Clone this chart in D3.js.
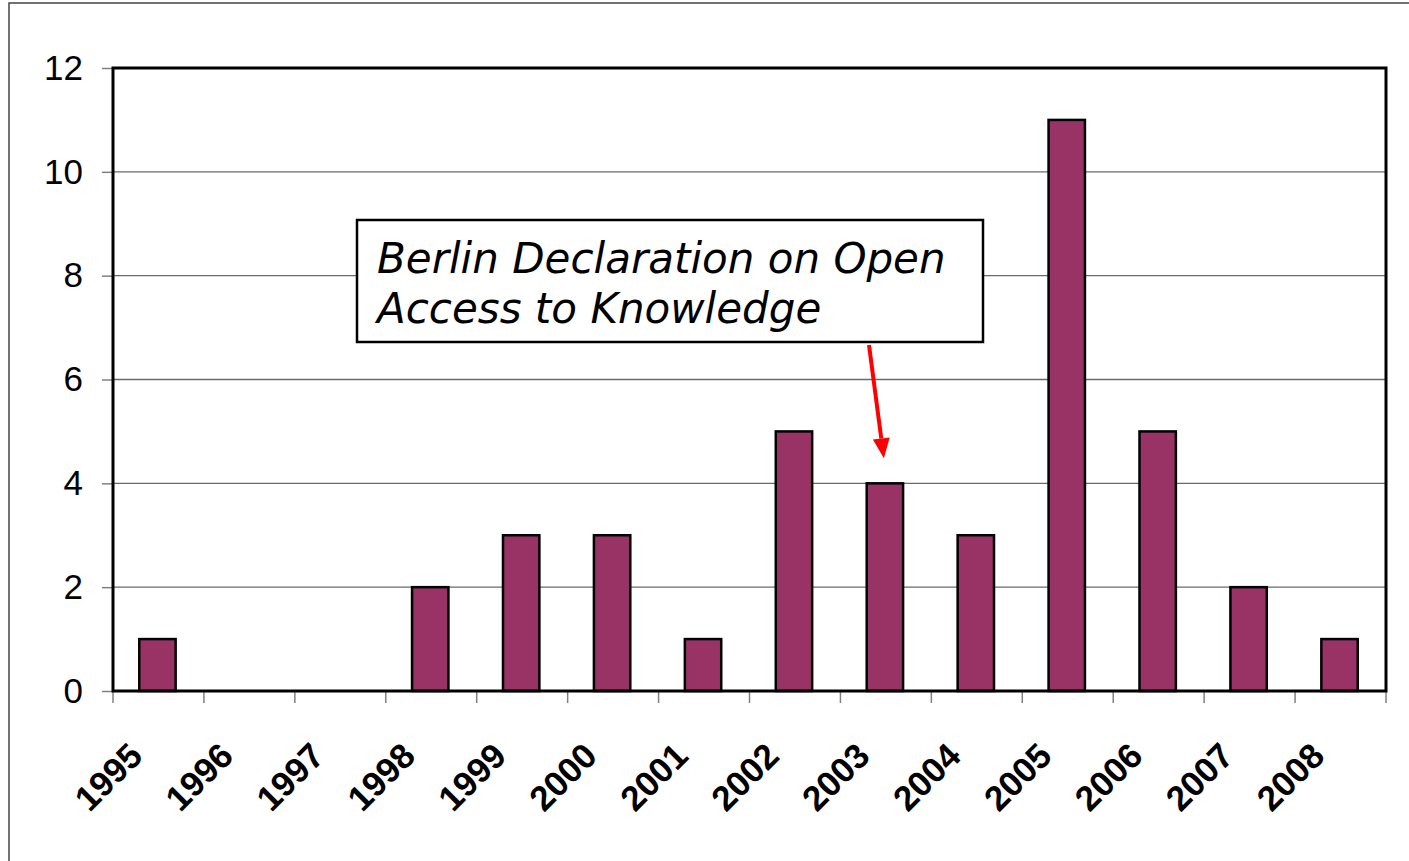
<!DOCTYPE html>
<html lang="en">
<head>
    <meta charset="UTF-8">
    <title>Berlin Declaration</title>
    <style>
        body{margin:0;background:#fff;}
        .ylab text{font-family:"Liberation Sans",Arial,sans-serif;font-size:35px;fill:#000;}
        .xlab{font-family:"Liberation Sans",Arial,sans-serif;font-size:35px;font-weight:bold;fill:#000;}
        .note{font-family:"DejaVu Sans",sans-serif;font-style:oblique;font-size:42px;fill:#000;}
    </style>
    <script src="https://cdn.jsdelivr.net/npm/d3@7"></script>
</head>
<body>
<svg width="1409" height="861"></svg>
<script type="text/javascript">
    var years = ["1995","1996","1997","1998","1999","2000","2001","2002","2003","2004","2005","2006","2007","2008"];
    var counts = [1,0,0,2,3,3,1,5,4,3,11,5,2,1];
    var yTicks = [0,2,4,6,8,10,12];
    var noteLines = ["Berlin Declaration on Open","Access to Knowledge"];
    var noteYear = "2003";

    var W = 1409, H = 861;
    var plotL = 113, plotR = 1386, plotT = 68, plotB = 691;

    var svg = d3.select("svg");

    // outer frame
    svg.append("rect")
        .attr("x",9).attr("y",3)
        .attr("width",W).attr("height",H)
        .attr("fill","none")
        .attr("stroke","#444")
        .attr("stroke-width",1.5);

    var y = d3.scaleLinear().domain([0,12]).range([plotB,plotT]);
    // category slots (ticks sit on the slot edges)
    var slot = d3.scaleBand().domain(years).range([plotL,plotR]).padding(0);
    // bars inside the slots
    var x = d3.scaleBand().domain(years).range([plotL,plotR])
        .paddingInner(0.6).paddingOuter(0.3);

    // gridlines
    svg.append("g").selectAll("line")
        .data(yTicks.filter(function(d){return d>0 && d<12;}))
        .enter().append("line")
        .attr("x1",plotL).attr("x2",plotR)
        .attr("y1",function(d){return y(d);})
        .attr("y2",function(d){return y(d);})
        .attr("stroke","#6a6a6a")
        .attr("stroke-width",1.4);

    // y axis
    var yAxis = svg.append("g")
        .attr("class","ylab")
        .attr("transform","translate("+plotL+",0)")
        .call(d3.axisLeft(y).tickValues(yTicks).tickSize(11).tickPadding(19).tickFormat(d3.format("d")));
    yAxis.select(".domain").remove();
    yAxis.selectAll(".tick line").attr("stroke","#808080").attr("stroke-width",1.5);

    // x ticks at slot edges
    var edges = years.map(function(d){return slot(d);}).concat([plotR]);
    svg.append("g").selectAll("line")
        .data(edges)
        .enter().append("line")
        .attr("x1",function(d){return d;}).attr("x2",function(d){return d;})
        .attr("y1",plotB).attr("y2",plotB+12)
        .attr("stroke","#808080")
        .attr("stroke-width",1.5);

    // x labels
    svg.append("g").selectAll("text")
        .data(years)
        .enter().append("text")
        .attr("class","xlab")
        .attr("text-anchor","end")
        .attr("transform",function(d){
            var cx = slot(d) + slot.bandwidth()/2 - 14;
            return "translate("+cx+","+(plotB+67)+") rotate(-45)";
        })
        .text(function(d){return d;});

    // bars (years with zero get no bar)
    var barData = years.map(function(d,i){return {year:d,value:counts[i]};})
        .filter(function(d){return d.value>0;});
    svg.append("g").selectAll("rect")
        .data(barData)
        .enter().append("rect")
        .attr("x",function(d){return x(d.year) - 1;})
        .attr("y",function(d){return y(d.value);})
        .attr("width",x.bandwidth())
        .attr("height",function(d){return y(0)-y(d.value);})
        .attr("fill","#993366")
        .attr("stroke","#000")
        .attr("stroke-width",2.5);

    // plot border
    svg.append("rect")
        .attr("x",plotL).attr("y",plotT)
        .attr("width",plotR-plotL).attr("height",plotB-plotT)
        .attr("fill","none")
        .attr("stroke","#000")
        .attr("stroke-width",3);

    // annotation box
    var note = svg.append("g");
    note.append("rect")
        .attr("x",357).attr("y",220)
        .attr("width",626).attr("height",122)
        .attr("fill","#fff")
        .attr("stroke","#000")
        .attr("stroke-width",2.5);
    note.selectAll("text")
        .data(noteLines)
        .enter().append("text")
        .attr("class","note")
        .attr("x",377)
        .attr("y",function(d,i){return 273+i*50;})
        .text(function(d){return d;});

    // arrow pointing at the 2003 bar
    var idx = years.indexOf(noteYear);
    var tipX = x(noteYear) + x.bandwidth()/2 - 2;
    var tipY = y(counts[idx]) - 25;
    var sx = 869, sy = 345;
    var len = Math.sqrt((tipX-sx)*(tipX-sx)+(tipY-sy)*(tipY-sy));
    var ux = (tipX-sx)/len, uy = (tipY-sy)/len;
    var headLen = 20, headHalf = 8.5;
    var bx = tipX - ux*headLen, by = tipY - uy*headLen;
    svg.append("line")
        .attr("x1",sx).attr("y1",sy)
        .attr("x2",bx).attr("y2",by)
        .attr("stroke","#ff0000")
        .attr("stroke-width",4);
    svg.append("path")
        .attr("d","M"+tipX+","+tipY+
            "L"+(bx - uy*headHalf)+","+(by + ux*headHalf)+
            "L"+(bx + uy*headHalf)+","+(by - ux*headHalf)+"Z")
        .attr("fill","#ff0000");
</script>
</body>
</html>
